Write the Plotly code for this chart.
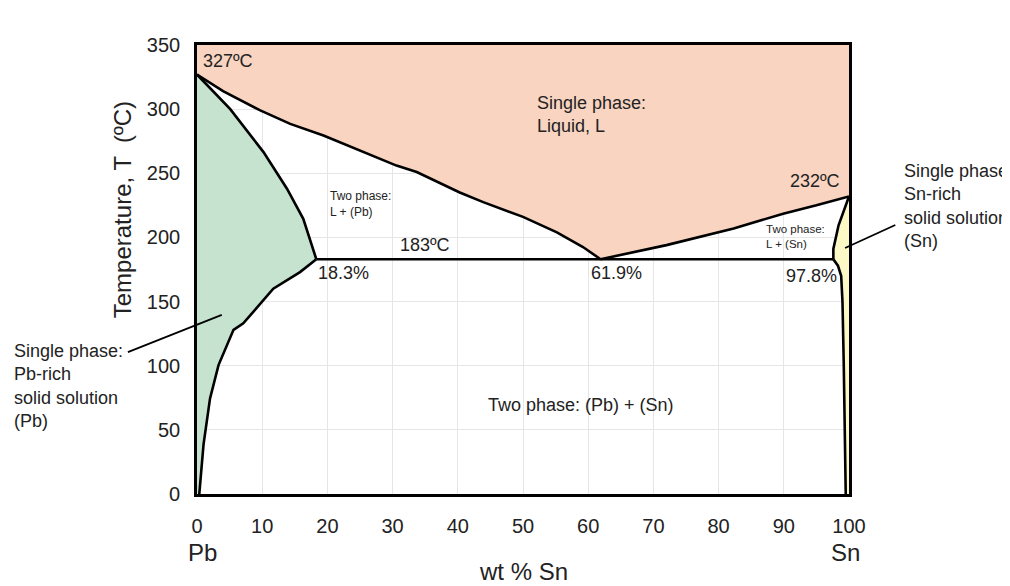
import plotly.graph_objects as go

# ---------------- data ----------------
liq_left_x = [0, 4.0, 9.7, 14.3, 19.4, 24.5, 30.6, 33.7, 40.3, 43.9, 47.5, 50.0, 55.2, 59.2, 61.9]
liq_left_T = [327, 314, 299, 288.5, 279.5, 269, 256, 251, 235, 227.5, 221, 216, 204, 192.5, 183]
liq_right_x = [61.9, 72.0, 82.3, 89.9, 95.0, 100]
liq_right_T = [183, 194, 207, 218.5, 225, 232]

sol_left_x = [0, 5.1, 10.2, 13.8, 16.3, 18.3]
sol_left_T = [327, 300, 266.5, 238, 214.5, 183]
solv_left_x = [18.3, 15.8, 11.7, 7.1, 5.6, 3.3, 2.0, 1.0, 0.35]
solv_left_T = [183, 173, 160, 133, 128, 100.5, 74.5, 38.5, 0]

sol_right_x = [100, 98.4, 97.6, 97.6]
sol_right_T = [232, 209.5, 191, 183]
solv_right_x = [97.6, 98.3, 98.8, 99.0, 99.2, 99.4, 99.5]
solv_right_T = [183, 178, 170, 150, 100, 40, 0]

eutectic_x = [18.3, 97.6]
eutectic_T = [183, 183]

x_ticks = [0, 10, 20, 30, 40, 50, 60, 70, 80, 90, 100]
y_ticks = [0, 50, 100, 150, 200, 250, 300, 350]

LIQ = "#f8d4c1"
GREEN = "#c5e3cf"
YELLOW = "#fcf9c6"
LW = 2.6
FONT = "Arial, Liberation Sans, sans-serif"
TXT = "#222"

fig = go.Figure()

# liquid region
fig.add_trace(go.Scatter(
    x=liq_left_x + liq_right_x[1:] + [100, 0],
    y=liq_left_T + liq_right_T[1:] + [350, 350],
    fill="toself", fillcolor=LIQ, line=dict(width=0), mode="lines",
    hoverinfo="skip", showlegend=False))
# Pb-rich solid solution
fig.add_trace(go.Scatter(
    x=sol_left_x + solv_left_x[1:] + [0],
    y=sol_left_T + solv_left_T[1:] + [0],
    fill="toself", fillcolor=GREEN, line=dict(width=0), mode="lines",
    hoverinfo="skip", showlegend=False))
# Sn-rich solid solution
fig.add_trace(go.Scatter(
    x=sol_right_x + solv_right_x[1:] + [100],
    y=sol_right_T + solv_right_T[1:] + [0],
    fill="toself", fillcolor=YELLOW, line=dict(width=0), mode="lines",
    hoverinfo="skip", showlegend=False))

# boundary lines
for xs, ts in [(liq_left_x, liq_left_T), (liq_right_x, liq_right_T),
               (sol_left_x, sol_left_T), (solv_left_x, solv_left_T),
               (sol_right_x, sol_right_T), (solv_right_x, solv_right_T),
               (eutectic_x, eutectic_T)]:
    fig.add_trace(go.Scatter(x=xs, y=ts, mode="lines",
                             line=dict(color="black", width=LW),
                             hoverinfo="skip", showlegend=False))

def txt(x, y, s, size=18, xanchor="left", yanchor="middle", xref="x", yref="y", color=TXT):
    fig.add_annotation(x=x, y=y, text=s, showarrow=False, xref=xref, yref=yref,
                       xanchor=xanchor, yanchor=yanchor, align="left",
                       font=dict(family=FONT, size=size, color=color))

txt(0.6, 337.5, "327ºC", 18)
txt(51.8, 296, "Single phase:<br>Liquid, L", 18)
txt(20.1, 226, "Two phase:<br>L + (Pb)", 12)
txt(35, 194, "183ºC", 18, xanchor="center")
txt(22.4, 172.5, "18.3%", 18, xanchor="center")
txt(64.4, 172.5, "61.9%", 18, xanchor="center")
txt(94.2, 170, "97.8%", 18, xanchor="center")
txt(99.0, 244, "232ºC", 18, xanchor="right")
txt(87.0, 200.6, "Two phase:<br>L + (Sn)", 11.5)
txt(58.9, 69, "Two phase: (Pb) + (Sn)", 18, xanchor="center")

txt(-0.284, 0.345, "Single phase:<br>Pb-rich<br>solid solution<br>(Pb)", 18,
    yanchor="top", xref="paper", yref="paper")
txt(1.081, 0.745, "Single phase:<br>Sn-rich<br>solid solution<br>(Sn)", 18,
    yanchor="top", xref="paper", yref="paper")

txt(0.009, -0.131, "Pb", 24, xanchor="center", xref="paper", yref="paper")
txt(0.994, -0.131, "Sn", 24, xanchor="center", xref="paper", yref="paper")
txt(0.50, -0.172, "wt % Sn", 24, xanchor="center", xref="paper", yref="paper")
fig.add_annotation(x=-0.115, y=0.632, xref="paper", yref="paper", text="Temperature, T  (ºC)",
                   showarrow=False, textangle=-90, xanchor="center", yanchor="middle",
                   font=dict(family=FONT, size=24, color=TXT))

# pointer lines
fig.add_shape(type="line", xref="paper", yref="paper", x0=-0.106, y0=0.316, x1=0.038, y1=0.399,
              line=dict(color="black", width=1.8))
fig.add_shape(type="line", xref="paper", yref="paper", x0=1.071, y0=0.599, x1=0.994, y1=0.548,
              line=dict(color="black", width=1.8))

fig.update_layout(
    width=1002, height=578,
    margin=dict(l=189, r=161, t=37, b=92),
    paper_bgcolor="white", plot_bgcolor="white",
    font=dict(family=FONT, color=TXT),
)
fig.update_xaxes(range=[0, 100], tickvals=x_ticks, showgrid=True, gridcolor="#e6e6e6", gridwidth=1,
                 showline=True, linecolor="black", linewidth=LW, mirror=True, zeroline=False,
                 ticks="outside", ticklen=12, tickcolor="rgba(0,0,0,0)",
                 tickfont=dict(size=20, family=FONT, color=TXT))
fig.update_yaxes(range=[0, 350], tickvals=y_ticks, showgrid=True, gridcolor="#e6e6e6", gridwidth=1,
                 showline=True, linecolor="black", linewidth=LW, mirror=True, zeroline=False,
                 ticks="outside", ticklen=10, tickcolor="rgba(0,0,0,0)",
                 tickfont=dict(size=20, family=FONT, color=TXT))

fig.write_html("out.html")
